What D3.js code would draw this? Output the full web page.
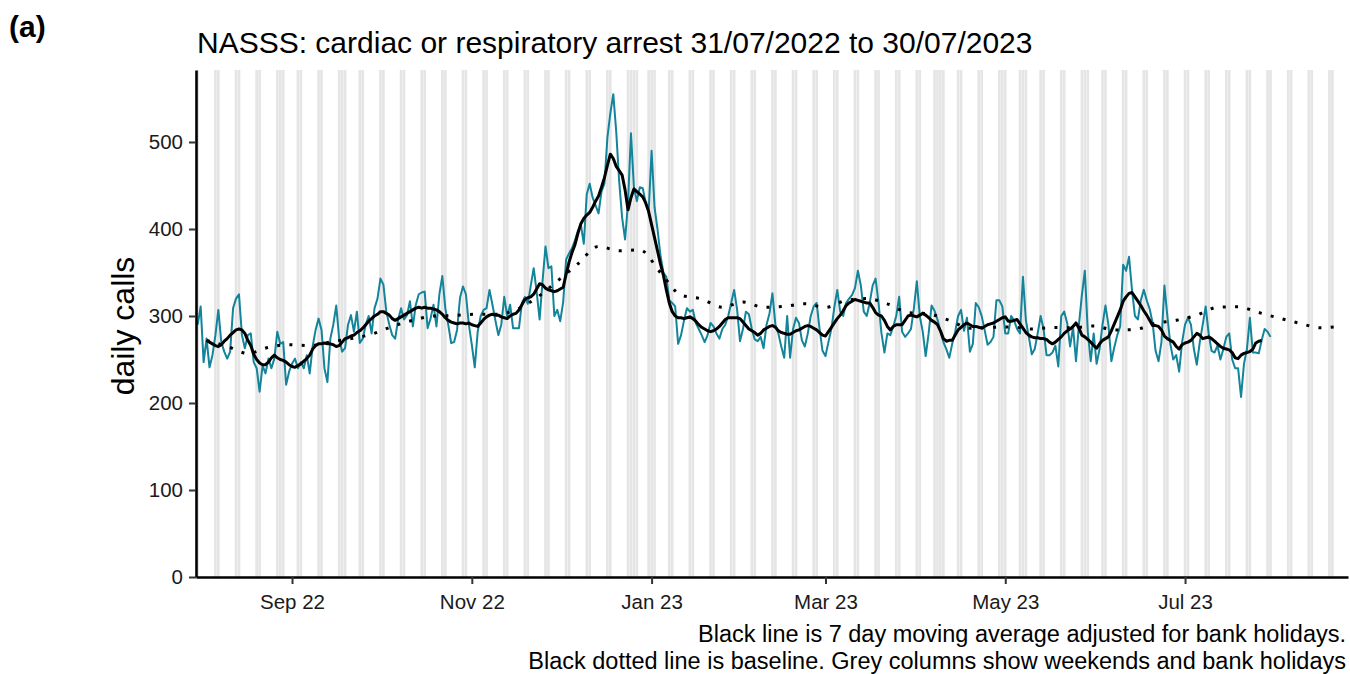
<!DOCTYPE html>
<html>
<head>
<meta charset="utf-8">
<script src="https://cdn.jsdelivr.net/npm/d3@7"></script>
<style>
  body { margin: 0; background: #fff; }
  svg { display: block; font-family: "Liberation Sans", Arial, sans-serif; }
</style>
</head>
<body>
<div id="chart"></div>
<script>
// values
const firstDay = "2022-07-31";
const calls = [
  290,311,247,274,241,255,278, 307,270,259,251,259,309,320, 325,278,263,278,280,247,240,
  213,243,234,251,240,251,282, 268,270,221,236,245,251,240, 247,240,255,234,265,284,297,
  284,240,224,274,290,312,274, 259,263,290,301,282,305,269, 274,290,300,280,309,320,343,
  336,305,290,278,274,296,309, 296,301,317,288,313,325,327, 328,286,297,313,288,325,346,
  309,290,269,270,284,321,334, 325,290,267,241,282,300,307, 309,330,313,295,278,290,322,
  300,313,286,286,286,315,322, 314,335,355,328,296,340,380, 355,357,300,307,294,316,365,
  372,378,387,398,405,383,440, 452,436,427,418,443,452,505, 533,555,512,455,413,388,430,
  510,448,432,448,447,430,420, 490,425,400,370,350,345,318, 315,311,268,278,295,309,305,
  307,292,285,278,270,278,292, 288,280,274,285,290,300,315, 330,308,271,285,305,302,285,
  273,271,276,263,290,303,326, 290,280,265,252,300,252,285, 298,292,272,265,280,300,311,
  315,285,260,254,270,285,310, 330,305,300,315,320,324,332, 352,335,305,300,315,335,343,
  315,280,258,280,278,288,300, 322,282,276,280,285,309,340, 300,282,254,280,312,306,296,
  282,270,262,252,268,282,300, 307,283,298,259,268,315,310, 300,284,267,270,276,318,318,
  311,280,280,300,295,285,280, 345,295,276,256,262,280,300, 285,255,255,258,266,242,300,
  305,292,265,287,248,290,324, 352,282,248,280,245,262,290, 312,290,248,264,278,288,359,
  352,368,330,300,296,318,330, 318,308,292,260,248,270,335, 300,268,250,255,236,270,290,
  298,290,262,244,270,290,311, 280,260,258,266,250,262,276, 280,250,240,240,207,245,262,
  298,258,258,257,272,285,282, 276
];
const maStart = "2022-08-03";
const movingAvg = [
  272,270,268,266,265,267,271, 274,278,281,284,285,284,280, 272,266,256,250,246,244,244,
  247,252,255,252,250,249,247, 244,242,241,243,245,248,251, 255,262,266,268,268,269,268,
  268,267,265,266,270,274,275, 277,278,281,283,286,290,294, 297,300,302,305,305,303,301,
  297,295,297,299,301,303,305, 307,309,310,309,310,309,309, 308,307,305,302,298,295,293,
  292,291,292,292,291,292,290, 289,288,292,296,299,301,302, 301,301,299,298,297,300,302,
  303,307,313,319,321,322,325, 331,337,336,332,330,329,328, 329,331,333,348,362,373,382,
  395,406,412,416,419,425,432, 438,448,459,473,486,481,472, 467,462,445,422,436,446,443,
  440,437,430,420,405,390,375, 360,347,330,315,305,300,298, 298,297,298,299,297,294,290,
  287,285,283,282,283,285,288, 292,296,298,298,298,298,297, 293,289,285,283,281,278,280,
  284,286,288,289,287,283,281, 280,279,279,281,283,284,286, 288,289,288,286,284,281,278,
  277,282,287,292,297,301,306, 312,315,317,319,318,317,316, 315,315,310,304,301,300,295,
  288,284,288,290,290,290,295, 300,301,300,299,301,303,301, 298,295,293,290,283,274,271,
  272,272,278,284,287,290,292, 290,288,288,287,286,288,290, 291,292,294,296,298,299,294,
  294,295,296,291,286,281,278, 276,275,275,274,274,273,270, 268,270,273,276,280,283,285,
  288,292,286,278,276,273,270, 266,263,268,272,274,276,283, 291,299,307,317,322,326,327,
  322,317,312,306,301,295,289, 289,288,284,277,274,272,270, 265,262,267,269,270,272,276,
  280,278,274,275,276,274,271, 268,265,263,262,261,258,252, 251,255,257,258,259,262,269,
  271,272
];
const baselineStart = "2022-08-03"; // one value per week
const baseline = [
  272,265,257,264,267,266,270,274,279,288,295,300,300.5,302,302,307,321,340,360,380,
  375,376,350,324,319.5,310,316,310,311,314,310,318,320,314,304,302.5,295,286,287,287.5,
  285,286.7,286.5,288.5,284,284.5,291.7,295,301,310,310.5,304,297.5,291.5,286.5,288.5
];
const bankHolidays = ["2022-08-29","2022-09-19","2022-12-26","2022-12-27","2023-01-02",
  "2023-04-07","2023-04-10","2023-05-01","2023-05-08","2023-05-29","2023-08-28"];
const yTicks = [0, 100, 200, 300, 400, 500];
const panelLabel = "(a)";
const title = "NASSS: cardiac or respiratory arrest 31/07/2022 to 30/07/2023";
const yLabel = "daily calls";
const caption = ["Black line is 7 day moving average adjusted for bank holidays.",
  "Black dotted line is baseline. Grey columns show weekends and bank holidays"];

const width = 1350, height = 674;
const margin = {top: 70, right: 2, bottom: 97, left: 196};
const teal = "#13849a";

const parse = d3.utcParse("%Y-%m-%d");
const day0 = parse(firstDay), ma0 = parse(maStart), base0 = parse(baselineStart);
const callData = calls.map((v, i) => ({date: d3.utcDay.offset(day0, i), value: v}));
const maData = movingAvg.map((v, i) => ({date: d3.utcDay.offset(ma0, i), value: v}));
const baseData = baseline.map((v, i) => ({date: d3.utcWeek.offset(base0, i), value: v}));
const holidaySet = new Set(bankHolidays);

const svg = d3.select("#chart").append("svg")
    .attr("width", width).attr("height", height);

const x = d3.scaleUtc()
    .domain([new Date(Date.UTC(2022, 6, 30, 10)), new Date(Date.UTC(2023, 7, 25, 7))])
    .range([margin.left, width - margin.right]);
const y = d3.scaleLinear()
    .domain([0, d3.max(calls) * 1.05])
    .range([height - margin.bottom, margin.top]);

svg.append("clipPath").attr("id", "panel")
  .append("rect")
    .attr("x", margin.left).attr("y", margin.top)
    .attr("width", width - margin.left - margin.right)
    .attr("height", height - margin.top - margin.bottom);

const plot = svg.append("g").attr("clip-path", "url(#panel)");

// weekends + bank holidays
const fmtDay = d3.utcFormat("%Y-%m-%d");
const greyDays = d3.utcDay.range(d3.utcDay.offset(x.domain()[0], -1), x.domain()[1])
    .filter(d => d.getUTCDay() === 0 || d.getUTCDay() === 6 || holidaySet.has(fmtDay(d)));
const halfDay = 0.45 * 864e5;
plot.selectAll("rect.grey")
  .data(greyDays)
  .join("rect")
    .attr("class", "grey")
    .attr("x", d => x(new Date(+d - halfDay)))
    .attr("width", d => x(new Date(+d + halfDay)) - x(new Date(+d - halfDay)))
    .attr("y", margin.top)
    .attr("height", height - margin.top - margin.bottom)
    .attr("fill", "#e5e5e5");

const line = d3.line().x(d => x(d.date)).y(d => y(d.value));

plot.append("path")
    .datum(callData)
    .attr("d", line)
    .attr("fill", "none")
    .attr("stroke", teal)
    .attr("stroke-width", 2)
    .attr("stroke-linejoin", "round");

plot.append("path")
    .datum(baseData)
    .attr("d", line.curve(d3.curveMonotoneX))
    .attr("fill", "none")
    .attr("stroke", "#000")
    .attr("stroke-width", 3)
    .attr("stroke-dasharray", "3 9.3");

line.curve(d3.curveLinear);
plot.append("path")
    .datum(maData)
    .attr("d", line)
    .attr("fill", "none")
    .attr("stroke", "#000")
    .attr("stroke-width", 3)
    .attr("stroke-linejoin", "round");

// axes
const axisY = svg.append("g")
    .attr("transform", `translate(${margin.left},0)`)
    .call(d3.axisLeft(y).tickValues(yTicks).tickSize(7).tickSizeOuter(0).tickPadding(6));
const axisX = svg.append("g")
    .attr("transform", `translate(0,${height - margin.bottom})`)
    .call(d3.axisBottom(x).ticks(d3.utcMonth.every(2)).tickFormat(d3.utcFormat("%b %y"))
      .tickSize(7).tickSizeOuter(0).tickPadding(10));
[axisY, axisX].forEach(a => {
  a.select(".domain").attr("stroke", "#000").attr("stroke-width", 2.6);
  a.selectAll(".tick line").attr("stroke", "#333").attr("stroke-width", 2);
  a.selectAll(".tick text").attr("fill", "#1a1a1a").style("font-size", "20.5px")
    .style("font-family", '"Liberation Sans", Arial, sans-serif');
});

// text
svg.append("text")
    .attr("x", 9).attr("y", 37)
    .style("font-size", "30px").style("font-weight", "bold")
    .text(panelLabel);
svg.append("text")
    .attr("x", 197).attr("y", 53)
    .style("font-size", "30px")
    .text(title);
svg.append("text")
    .attr("transform", `translate(134,326)rotate(-90)`)
    .attr("text-anchor", "middle")
    .style("font-size", "32px")
    .text(yLabel);
svg.selectAll("text.caption")
  .data(caption)
  .join("text")
    .attr("class", "caption")
    .attr("x", 1346)
    .attr("y", (d, i) => 642 + i * 27)
    .attr("text-anchor", "end")
    .style("font-size", "23.5px")
    .text(d => d);
</script>
</body>
</html>
